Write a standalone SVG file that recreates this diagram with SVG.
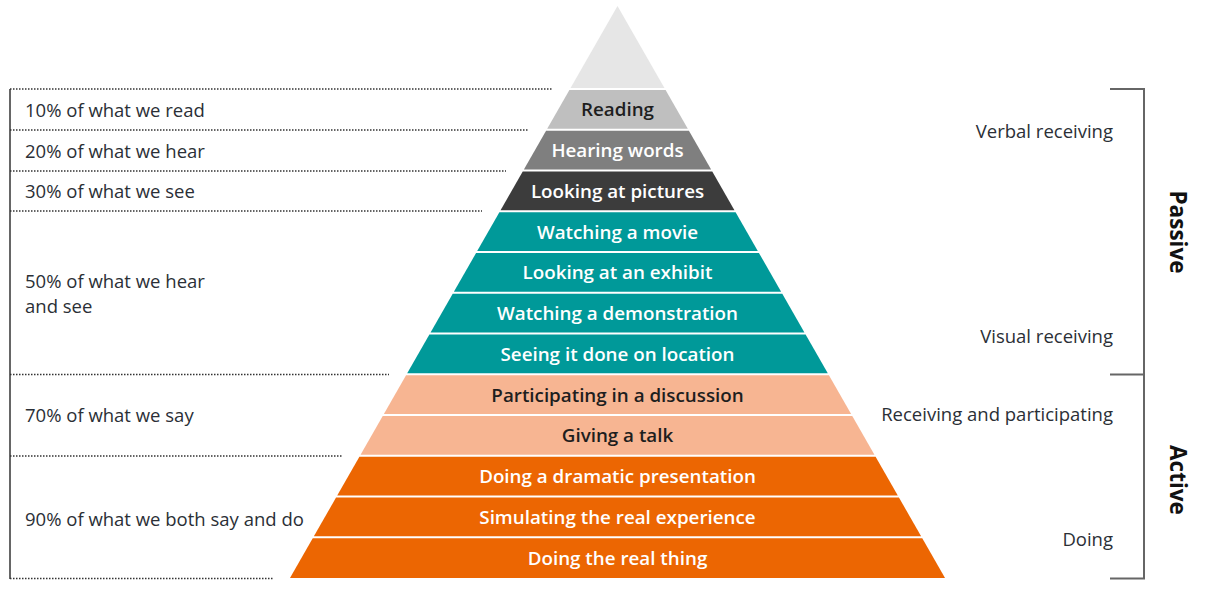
<svg xmlns="http://www.w3.org/2000/svg" width="1215" height="593" viewBox="0 0 1215 593">
<style>
.lbl{font-family:"Open Sans","Noto Sans",sans-serif;font-size:18.5px;fill:#2b2f36}
.lay{font-family:"Open Sans","Noto Sans",sans-serif;font-size:18.8px;font-weight:600;text-anchor:middle}
.dk{fill:#1e1e1e}
.wt{fill:#ffffff}
.rt{font-family:"Open Sans","Noto Sans",sans-serif;font-size:18.5px;fill:#2b2f36;text-anchor:end}
.side{font-family:"Open Sans","Noto Sans",sans-serif;font-size:22.5px;font-weight:700;fill:#111111;text-anchor:middle}
.dot{stroke:#333333;stroke-width:1.3;stroke-dasharray:1.5 1.5;fill:none}
.solid{stroke:#666666;stroke-width:2;fill:none}
</style>
<rect width="1215" height="593" fill="#ffffff"/>
<g id="connectors">
<line class="solid" x1="10" y1="89" x2="10" y2="579"/>
<line class="dot" x1="10" y1="89" x2="552" y2="89"/>
<line class="dot" x1="10" y1="130" x2="529" y2="130"/>
<line class="dot" x1="10" y1="171" x2="506" y2="171"/>
<line class="dot" x1="10" y1="211" x2="482" y2="211"/>
<line class="dot" x1="10" y1="374.5" x2="389" y2="374.5"/>
<line class="dot" x1="10" y1="456" x2="343" y2="456"/>
<line class="dot" x1="10" y1="578.5" x2="274" y2="578.5"/>
<polyline class="solid" points="1110,89 1144,89 1144,578.5 1110,578.5"/>
<line class="solid" x1="1110" y1="374.5" x2="1144" y2="374.5"/>
</g>
<g id="apex"><polygon points="617.5,6 664.45,88 570.55,88" fill="#e6e6e6"/></g>
<g id="reading"><polygon points="569.4,90 665.6,90 687.8,128.75 547.2,128.75" fill="#bfbfbf"/><text class="lay dk" x="617.5" y="116">Reading</text></g>
<g id="hearing"><polygon points="546.07,130.75 688.93,130.75 711.12,169.5 523.88,169.5" fill="#7f7f7f"/><text class="lay wt" x="617.5" y="157">Hearing words</text></g>
<g id="pictures"><polygon points="522.73,171.5 712.27,171.5 734.45,210.25 500.55,210.25" fill="#3c3c3c"/><text class="lay wt" x="617.5" y="197.5">Looking at pictures</text></g>
<g id="movie"><polygon points="499.4,212.25 735.6,212.25 757.79,251 477.21,251" fill="#009999"/><text class="lay wt" x="617.5" y="238.5">Watching a movie</text></g>
<g id="exhibit"><polygon points="476.07,253 758.93,253 781.12,291.75 453.88,291.75" fill="#009999"/><text class="lay wt" x="617.5" y="279">Looking at an exhibit</text></g>
<g id="demonstration"><polygon points="452.73,293.75 782.27,293.75 804.45,332.5 430.55,332.5" fill="#009999"/><text class="lay wt" x="617.5" y="320">Watching a demonstration</text></g>
<g id="location"><polygon points="429.4,334.5 805.6,334.5 827.79,373.25 407.21,373.25" fill="#009999"/><text class="lay wt" x="617.5" y="360.5">Seeing it done on location</text></g>
<g id="discussion"><polygon points="406.07,375.25 828.93,375.25 851.12,414 383.88,414" fill="#f7b592"/><text class="lay dk" x="617.5" y="401.5">Participating in a discussion</text></g>
<g id="talk"><polygon points="382.73,416 852.27,416 874.45,454.75 360.55,454.75" fill="#f7b592"/><text class="lay dk" x="617.5" y="442">Giving a talk</text></g>
<g id="dramatic"><polygon points="359.4,456.75 875.6,456.75 897.79,495.5 337.21,495.5" fill="#ec6602"/><text class="lay wt" x="617.5" y="483">Doing a dramatic presentation</text></g>
<g id="simulating"><polygon points="336.07,497.5 898.93,497.5 921.12,536.25 313.88,536.25" fill="#ec6602"/><text class="lay wt" x="617.5" y="523.5">Simulating the real experience</text></g>
<g id="realthing"><polygon points="312.73,538.25 922.27,538.25 945.03,578 289.97,578" fill="#ec6602"/><text class="lay wt" x="617.5" y="564.5">Doing the real thing</text></g>
<g id="left-labels">
<text class="lbl" x="25" y="116.5">10% of what we read</text>
<text class="lbl" x="25" y="157.5">20% of what we hear</text>
<text class="lbl" x="25" y="197.5">30% of what we see</text>
<text class="lbl" x="25" y="287.5">50% of what we hear</text>
<text class="lbl" x="25" y="312.5">and see</text>
<text class="lbl" x="25" y="421.5">70% of what we say</text>
<text class="lbl" x="25" y="525.5">90% of what we both say and do</text>
</g>
<g id="right-labels">
<text class="rt" x="1113" y="137.5">Verbal receiving</text>
<text class="rt" x="1113" y="342.5">Visual receiving</text>
<text class="rt" x="1113" y="420.5">Receiving and participating</text>
<text class="rt" x="1113" y="545.5">Doing</text>
</g>
<g id="passive"><text class="side" transform="translate(1170,232) rotate(90)">Passive</text></g>
<g id="active"><text class="side" transform="translate(1170,480) rotate(90)">Active</text></g>
</svg>
